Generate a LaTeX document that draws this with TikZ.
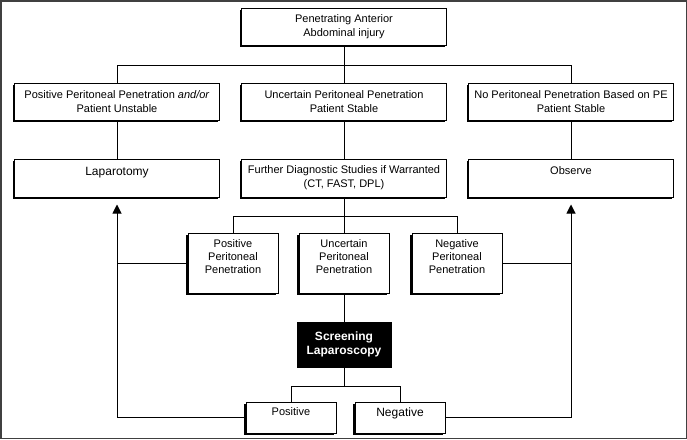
\documentclass[tikz,border=0pt]{standalone}
\usepackage{fontspec}
\setmainfont{Liberation Sans}
\usepackage{tikz}
\usetikzlibrary{positioning}
\usetikzlibrary{arrows.meta}
\usetikzlibrary{shadows,calc}
\tikzset{flow box/.style={rectangle,draw,fill=white,line width=1pt,align=center,inner sep=2pt,
    font=\fontsize{11}{14}\selectfont,
    drop shadow={shadow xshift=-2pt,shadow yshift=-2pt,fill=black,opacity=1}},
  wide box/.style={flow box,minimum width=205pt,minimum height=37pt},
  small box/.style={flow box,minimum width=90pt,minimum height=60pt,font=\fontsize{11}{13}\selectfont},
  end box/.style={flow box,minimum width=90pt,minimum height=31pt,text depth=11pt},
  dark box/.style={rectangle,draw,fill=black,text=white,line width=1pt,align=center,
    minimum width=94pt,minimum height=45pt,font=\bfseries\fontsize{12}{14}\selectfont},}

\begin{document}
\begin{tikzpicture}[x=1pt, y=-1pt, >={Triangle[length=9pt,width=9pt]}, line width=1pt]
	\useasboundingbox (0,0) rectangle (687,439);
	\draw[line width=1.5pt, black!75] (0.75,0.75) rectangle (686.25,438.25);

	\node[wide box] (inj) at (344,26.5) {Penetrating Anterior\\Abdominal injury};
	\node[wide box] (mid) [below = 37pt of inj] {Uncertain Peritoneal Penetration\\Patient Stable};
	\node[wide box] (pos) [left = 21pt of mid] {Positive Peritoneal Penetration \textit{and/or}\\Patient Unstable};
	\node[wide box] (nop) [right = 21pt of mid] {No Peritoneal Penetration Based on PE\\Patient Stable};
	\node[wide box, minimum height=38pt] (fur) [below = 38pt of mid] {Further Diagnostic Studies if Warranted\\(CT, FAST, DPL)};
	\node[wide box, minimum height=38pt, font=\fontsize{12}{14}\selectfont] (lap) [below = 38pt of pos] {Laparotomy\\~};
	\node[wide box, minimum height=38pt] (obs) [below = 38pt of nop] {Observe\\~};
	\node[small box] (unc) [below = 35pt of fur] {Uncertain\\Peritoneal\\Penetration\\~};
	\node[small box] (ppp) [left = 20pt of unc] {Positive\\Peritoneal\\Penetration\\~};
	\node[small box] (npp) [right = 22pt of unc] {Negative\\Peritoneal\\Penetration\\~};
	\node[dark box] (scr) [below = 28pt of unc] {Screening\\Laparoscopy};
	\node[end box] (lpos) [below = 34pt of scr, xshift=-53pt] {Positive};
	\node[end box, font=\fontsize{12}{14}\selectfont] (lneg) [below = 34pt of scr, xshift=56pt] {Negative};

	\coordinate (j1) at ($(inj.south)!.55!(mid.north)$);
	\coordinate (j2) at ($(fur.south)!.55!(unc.north)$);
	\coordinate (j3) at ($(scr.south)!.55!(scr.south |- lpos.north)$);

	\path[draw]
	(inj) edge (mid)
	(pos) edge (lap)
	(mid) edge (fur)
	(nop) edge (obs)
	(fur) edge (unc)
	(unc) edge (scr)
	(scr) edge (j3);

	\draw (pos.north) |- (j1) -| (nop.north);
	\draw (ppp.north) |- (j2) -| (npp.north);
	\draw (lpos.north) |- (j3) -| (lneg.north);
	\draw (ppp.west) -- (ppp.west -| lap.south);
	\draw (npp.east) -- (npp.east -| obs.south);
	\draw[->, shorten >=7pt] (lpos.west) -| (lap.south);
	\draw[->, shorten >=7pt] (lneg.east) -| (obs.south);
\end{tikzpicture}
\end{document}
